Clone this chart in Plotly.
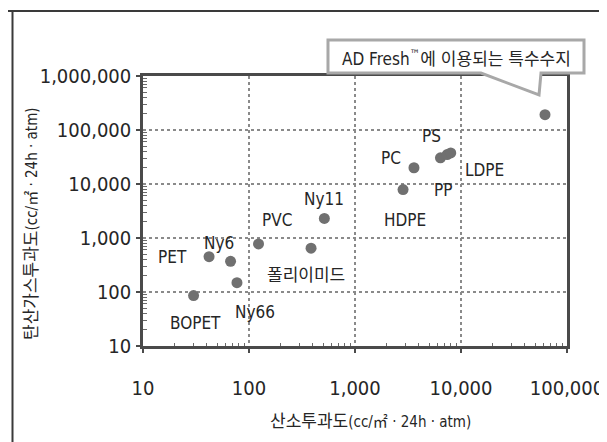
import math
import plotly.graph_objects as go

# ---------------- data ----------------
materials = ["BOPET", "PET", "Ny6", "Ny66", "PVC", "폴리이미드", "Ny11",
             "HDPE", "PC", "PP", "PS", "LDPE"]
o2_perm = [30, 42, 67, 77, 123, 385, 514, 2840, 3600, 6400, 7400, 8000]
co2_perm = [86, 450, 370, 149, 776, 648, 2300, 7900, 20000, 30500, 35000, 37700]

special_name = "AD Fresh<sup>™</sup>에 이용되는 특수수지"
special_o2 = [62000]
special_co2 = [192000]

x_tickvals = [10, 100, 1000, 10000, 100000]
x_ticktext = ["10", "100", "1,000", "10,000", "100,000"]
y_tickvals = [10, 100, 1000, 10000, 100000, 1000000]
y_ticktext = ["10", "100", "1,000", "10,000", "100,000", "1,000,000"]

x_title = "산소투과도"
y_title = "탄산가스투과도"
unit = "(cc/㎡ · 24h · atm)"

# ---------------- layout constants ----------------
W, H = 607, 442
L, R, T, B = 135, 48, 68, 104
PW, PH = W - L - R, H - T - B

FONT = "Liberation Sans Narrow, Arial Narrow, DejaVu Sans Condensed, Noto Sans CJK KR, sans-serif"
TXT = "#262626"
MARK = "#707070"

# label pixel offsets (dx right, dy down) relative to each point
label_offsets = {
    "BOPET": (2, 27), "PET": (-37, 0), "Ny6": (-12, -18), "Ny66": (18, 29),
    "PVC": (18, -24), "폴리이미드": (-5, 27), "Ny11": (0, -19), "HDPE": (2, 30),
    "PC": (-23, -10), "PP": (3, 32), "PS": (-16, -19), "LDPE": (34, 17),
}


def px(x):
    return (x - L) / PW


def py(y):
    return (H - B - y) / PH


fig = go.Figure()
fig.add_trace(go.Scatter(
    x=o2_perm, y=co2_perm, mode="markers",
    marker=dict(size=11, color=MARK), hoverinfo="text", text=materials,
    showlegend=False))
fig.add_trace(go.Scatter(
    x=special_o2, y=special_co2, mode="markers",
    marker=dict(size=11, color=MARK), hoverinfo="skip",
    showlegend=False))

annotations = []
for name, xv, yv in zip(materials, o2_perm, co2_perm):
    dx, dy = label_offsets[name]
    annotations.append(dict(
        x=math.log10(xv), y=math.log10(yv), xref="x", yref="y",
        text=name, showarrow=False, xshift=dx, yshift=-dy,
        font=dict(family=FONT, size=17, color=TXT)))

# callout text
annotations.append(dict(
    x=px(448), y=py(50), xref="paper", yref="paper", text=special_name,
    showarrow=False, xanchor="center", yanchor="middle",
    font=dict(family=FONT, size=17, color=TXT)))

# axis titles
annotations.append(dict(
    x=px(362), y=py(413), xref="paper", yref="paper",
    text=x_title + "<span style='font-size:15px'>" + unit + "</span>",
    showarrow=False, xanchor="center", yanchor="middle",
    font=dict(family=FONT, size=17, color=TXT)))
annotations.append(dict(
    x=px(23), y=py(216), xref="paper", yref="paper",
    text=y_title + "<span style='font-size:15px'>" + unit + "</span>",
    showarrow=False, xanchor="center", yanchor="middle", textangle=-90,
    font=dict(family=FONT, size=17, color=TXT)))

# callout box path
pts = [(320, 32), (576, 32), (576, 65), (533, 65), (531, 87), (473, 65), (320, 65)]
path = "M " + " L ".join(f"{px(a):.4f},{py(b):.4f}" for a, b in pts) + " Z"
shapes = [
    dict(type="path", path=path, xref="paper", yref="paper",
         fillcolor="white", line=dict(color="#a8a8a8", width=3), layer="above"),
    # outer frame (top and left)
    dict(type="line", xref="paper", yref="paper", x0=px(0), x1=px(W), y0=py(3), y1=py(3),
         line=dict(color="#3a3a3a", width=2)),
    dict(type="line", xref="paper", yref="paper", x0=px(4.5), x1=px(4.5), y0=py(2), y1=py(H),
         line=dict(color="#3a3a3a", width=2)),
]

minor_x = [m * 10 ** k for k in range(1, 5) for m in range(2, 10)]
minor_y = [m * 10 ** k for k in range(1, 6) for m in range(2, 10)]

axis_common = dict(
    type="log", showline=True, linecolor="#4a4a4a", linewidth=2.5, mirror=True,
    showgrid=True, gridcolor="#8a8a8a", gridwidth=1.5, griddash="dot",
    ticks="outside", ticklen=4, tickwidth=1.5, tickcolor="#4a4a4a",
    tickfont=dict(family=FONT, size=20, color=TXT), zeroline=False,
    tickmode="array",
)

fig.update_xaxes(
    **axis_common, range=[1, 5], tickvals=x_tickvals, ticktext=x_ticktext,
    ticklabelstandoff=18,
    minor=dict(tickmode="array", tickvals=minor_x, ticks="inside", ticklen=3,
               tickcolor="#6a6a6a", tickwidth=1, showgrid=False))
fig.update_yaxes(
    **axis_common, range=[1, 6], tickvals=y_tickvals, ticktext=y_ticktext,
    ticklabelstandoff=1,
    minor=dict(tickmode="array", tickvals=minor_y, ticks="inside", ticklen=4,
               tickcolor="#6a6a6a", tickwidth=1, showgrid=False))

fig.update_layout(
    width=W, height=H, margin=dict(l=L, r=R, t=T, b=B),
    paper_bgcolor="white", plot_bgcolor="white",
    annotations=annotations, shapes=shapes, showlegend=False,
    font=dict(family=FONT, color=TXT),
)

fig.write_html("out.html")
